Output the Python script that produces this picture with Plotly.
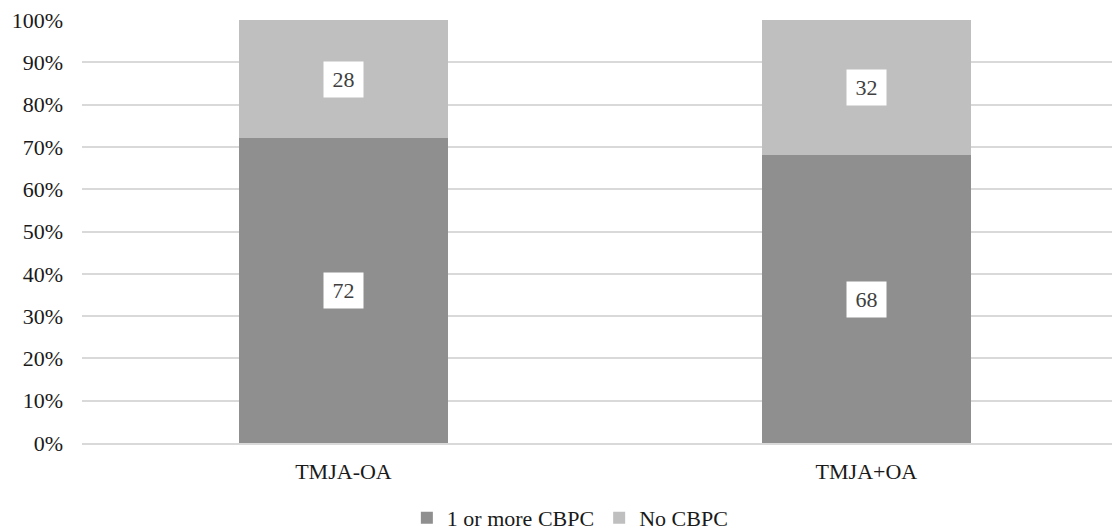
import plotly.graph_objects as go

categories = ["TMJA-OA", "TMJA+OA"]
one_or_more = [72, 68]
no_cbpc = [28, 32]
series_names = ["1 or more CBPC", "No CBPC"]
colors = ["#8f8f8f", "#bfbfbf"]
y_ticks = list(range(0, 101, 10))
y_tick_labels = [f"{v}%" for v in y_ticks]

font = "Liberation Serif"
text_color = "#1a1a1a"

fig = go.Figure()
fig.add_trace(go.Bar(x=categories, y=one_or_more, name=series_names[0],
                     marker=dict(color=colors[0], line=dict(width=0)), width=0.4))
fig.add_trace(go.Bar(x=categories, y=no_cbpc, name=series_names[1],
                     marker=dict(color=colors[1], line=dict(width=0)), width=0.4))

for i, c in enumerate(categories):
    a = one_or_more[i]
    b = no_cbpc[i]
    for val, ymid in [(a, a / 2), (b, a + b / 2)]:
        fig.add_annotation(x=c, y=ymid, text=str(val), showarrow=False,
                           bgcolor="white", borderpad=0, width=39, height=35,
                           font=dict(family=font, size=22, color="#404040"))

fig.update_layout(
    barmode="stack",
    width=1112, height=520,
    margin=dict(l=74, r=0, t=12, b=85, autoexpand=False),
    paper_bgcolor="white", plot_bgcolor="white",
    font=dict(family=font, size=22, color=text_color),
    bargap=0,
    xaxis=dict(range=[-0.5, 1.485], showgrid=False, zeroline=False,
               showline=True, linecolor="#d9d9d9", linewidth=2,
               automargin=False,
               tickfont=dict(family=font, size=22, color=text_color),
               ticklabelstandoff=8),
    yaxis=dict(range=[0, 100], tickvals=y_ticks, ticktext=y_tick_labels,
               showgrid=True, gridcolor="#d9d9d9", gridwidth=2,
               zeroline=False, ticklabelstandoff=18, automargin=False,
               ticklabeloverflow="allow",
               tickfont=dict(family=font, size=22, color=text_color)),
    legend=dict(orientation="h", x=0.47, xanchor="center", yref="paper",
                y=-0.177, yanchor="middle", traceorder="normal",
                font=dict(family=font, size=22, color=text_color),
                itemwidth=30),
)

fig.write_html("out.html")
